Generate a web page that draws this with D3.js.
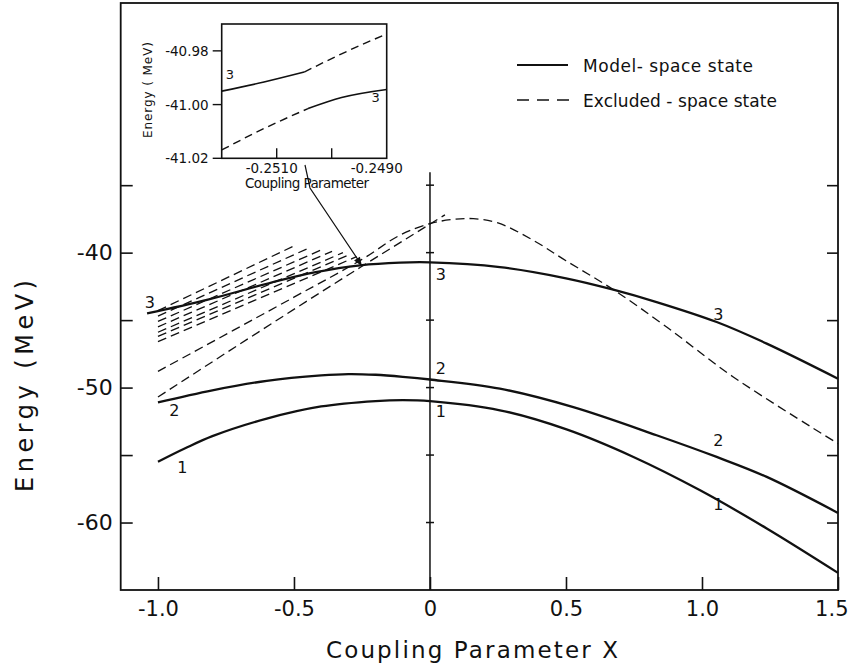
<!DOCTYPE html>
<html><head><meta charset="utf-8">
<script src="https://cdn.jsdelivr.net/npm/d3@7"></script>
<style>
body{margin:0;background:#fff}
svg{display:block}
text{font-family:"DejaVu Sans",sans-serif;fill:#111}
</style>
</head><body>
<svg id="c" width="849" height="667"></svg>
<script>
// ---------- data (coupling parameter X, energy MeV) ----------
const state1X = [-1.0,-0.9,-0.8,-0.6,-0.4,-0.2,-0.1,0,0.257,0.502,0.748,0.993,1.238,1.5];
const state1E = [-55.5,-54.5,-53.6,-52.3,-51.4,-51.0,-50.93,-51.0,-51.68,-53.1,-55.14,-57.61,-60.44,-63.73];
const state2X = [-1.0,-0.8,-0.6,-0.4,-0.3,-0.2,-0.1,0,0.257,0.527,0.833,1.054,1.238,1.5];
const state2E = [-51.1,-50.2,-49.5,-49.1,-49.0,-49.05,-49.2,-49.4,-50.08,-51.45,-53.53,-55.14,-56.62,-59.29];
const state3X = [-1.04,-0.82,-0.58,-0.42,-0.257,-0.11,0,0.257,0.5,0.674,0.833,1.054,1.238,1.5];
const state3E = [-44.5,-43.5,-42.2,-41.45,-40.94,-40.74,-40.72,-41.07,-41.9,-42.74,-43.66,-45.14,-46.74,-49.34];

const excl1X = [-1.0,-0.5,-0.25,-0.11,0,0.08,0.159,0.25,0.38,0.5,0.674,0.87,1.115,1.5];
const excl1E = [-48.8,-43.3,-40.5,-38.7,-37.85,-37.55,-37.48,-37.8,-39.09,-40.6,-42.74,-45.51,-49.21,-54.15];
const excl2X = [-1.0,-0.257,0.055];
const excl2E = [-50.7,-41.1,-37.2];
// fan of short excluded-space lines: start and end points
const fanX0 = [-1.0,-1.0,-1.0,-1.0,-1.0,-1.0,-1.0];
const fanE0 = [-44.3,-44.7,-45.1,-45.5,-45.9,-46.2,-46.6];
const fanX1 = [-0.50,-0.45,-0.40,-0.36,-0.32,-0.29,-0.27];
const fanE1 = [-39.5,-39.7,-39.8,-39.9,-40.0,-40.1,-40.3];

// curve labels
const labelX = [-1.03,0.04,1.06,-0.94,0.04,1.06,-0.91,0.04,1.06];
const labelE = [-43.7,-41.6,-44.6,-51.7,-48.6,-53.9,-55.9,-51.8,-58.7];
const labelT = ["3","3","3","2","2","2","1","1","1"];

const xTicks = [-1.0,-0.5,0,0.5,1.0,1.5];
const xTickLabels = ["-1.0","-0.5","0","0.5","1.0","1.5"];
const yTicks = [-35,-40,-45,-50,-55,-60];
const yTickLabels = {"-40":"-40","-50":"-50","-60":"-60"};

// inset data
const inSolidAX = [-0.2520,-0.25123,-0.25050];
const inSolidAE = [-40.995,-40.9916,-40.9879];
const inDashAX = [-0.25050,-0.24982,-0.2490];
const inDashAE = [-40.9879,-40.9811,-40.9737];
const inDashBX = [-0.2520,-0.25123,-0.25043];
const inDashBE = [-41.0169,-41.0089,-41.0015];
const inSolidBX = [-0.25043,-0.24982,-0.2490];
const inSolidBE = [-41.0015,-40.9974,-40.9944];
const inYTicks = [-40.98,-41.00,-41.02];
const inYTickLabels = ["-40.98","-41.00","-41.02"];
const inXTicks = [-0.2510,-0.2500];
const inXLabelVals = [-0.2510,-0.2490];
const inXTickLabels = ["-0.2510","-0.2490"];
const arrowTarget = [-0.25,-41.0];

// ---------- drawing ----------
const svg = d3.select("#c");
const x = d3.scaleLinear().domain([-1.137,1.5]).range([120.7,838]);
const y = d3.scaleLinear().domain([-65,-21.5]).range([590,3]);
const zip = (a,b)=>a.map((v,i)=>[v,b[i]]);
const line = d3.line().x(d=>x(d[0])).y(d=>y(d[1])).curve(d3.curveCatmullRom.alpha(0.5));

// frame
svg.append("rect").attr("x",x(-1.137)).attr("y",y(-21.5))
  .attr("width",x(1.5)-x(-1.137)).attr("height",y(-65)-y(-21.5))
  .attr("fill","none").attr("stroke","#111").attr("stroke-width",1.8);

// left axis
const gl = svg.append("g").attr("transform",`translate(${x(-1.137)},0)`)
  .call(d3.axisLeft(y).tickValues(yTicks).tickSizeInner(-12).tickSizeOuter(0).tickPadding(8)
    .tickFormat(d=>yTickLabels[String(d)]||""));
gl.select(".domain").remove();
gl.selectAll("line").attr("stroke","#111").attr("stroke-width",1.6);
gl.selectAll("text").attr("font-size",22).attr("fill","#111").style("font-family","DejaVu Sans");

// right axis ticks
const gr = svg.append("g").attr("transform",`translate(${x(1.5)},0)`)
  .call(d3.axisRight(y).tickValues(yTicks).tickSizeInner(-11).tickSizeOuter(0).tickFormat(""));
gr.select(".domain").remove();
gr.selectAll("line").attr("stroke","#111").attr("stroke-width",1.6);

// bottom axis
const gb = svg.append("g").attr("transform",`translate(0,${y(-65)})`)
  .call(d3.axisBottom(x).tickValues(xTicks).tickSizeInner(-13).tickSizeOuter(0).tickPadding(11)
    .tickFormat((d,i)=>xTickLabels[i]));
gb.select(".domain").remove();
gb.selectAll("line").attr("stroke","#111").attr("stroke-width",1.6);
gb.selectAll("text").attr("font-size",21).attr("fill","#111").style("font-family","DejaVu Sans");
gb.selectAll("text").filter(d=>d===1.5).attr("text-anchor","end").attr("x",848-x(1.5));

// center line at X = 0 with cross ticks
svg.append("line").attr("x1",x(0)).attr("x2",x(0)).attr("y1",y(-34.05)).attr("y2",y(-65))
  .attr("stroke","#111").attr("stroke-width",1.5);
svg.append("g").selectAll("line").data(yTicks).join("line")
  .attr("x1",x(0)-4).attr("x2",x(0)+4).attr("y1",d=>y(d)).attr("y2",d=>y(d))
  .attr("stroke","#111").attr("stroke-width",1.5);

// excluded-space (dashed)
const dashG = svg.append("g").attr("fill","none").attr("stroke","#111").attr("stroke-width",1.3)
  .attr("stroke-dasharray","9,5");
dashG.append("path").attr("d",line(zip(excl1X,excl1E)));
dashG.append("path").attr("d",d3.line().x(d=>x(d[0])).y(d=>y(d[1])).curve(d3.curveMonotoneX)(zip(excl2X,excl2E)));
fanX0.forEach((v,i)=>{
  dashG.append("path").attr("d",d3.line().x(d=>x(d[0])).y(d=>y(d[1]))([[v,fanE0[i]],[fanX1[i],fanE1[i]]]));
});

// model-space (solid)
const solidG = svg.append("g").attr("fill","none").attr("stroke","#111").attr("stroke-width",2.3);
solidG.append("path").attr("d",line(zip(state1X,state1E)));
solidG.append("path").attr("d",line(zip(state2X,state2E)));
solidG.append("path").attr("d",line(zip(state3X,state3E)));

// curve labels
svg.append("g").selectAll("text").data(labelT).join("text")
  .attr("x",(d,i)=>x(labelX[i])).attr("y",(d,i)=>y(labelE[i]))
  .attr("text-anchor","middle").attr("dominant-baseline","central")
  .attr("font-size",16).text(d=>d);

// axis titles
svg.append("text").attr("x",472).attr("y",658).attr("text-anchor","middle")
  .attr("font-size",23).attr("textLength",292).attr("lengthAdjust","spacing")
  .text("Coupling Parameter  X");
svg.append("text").attr("transform","translate(33,386) rotate(-90)").attr("text-anchor","middle")
  .attr("font-size",24).attr("textLength",212).attr("lengthAdjust","spacing")
  .text("Energy  (MeV)");

// legend
svg.append("line").attr("x1",517).attr("x2",568).attr("y1",65).attr("y2",65)
  .attr("stroke","#111").attr("stroke-width",2.2);
svg.append("text").attr("x",583).attr("y",72).attr("font-size",17)
  .attr("textLength",170).attr("lengthAdjust","spacing").text("Model- space  state");
svg.append("line").attr("x1",517).attr("x2",569).attr("y1",100).attr("y2",100)
  .attr("stroke","#111").attr("stroke-width",1.6).attr("stroke-dasharray","12,8");
svg.append("text").attr("x",583).attr("y",107).attr("font-size",17)
  .attr("textLength",194).attr("lengthAdjust","spacing").text("Excluded - space  state");

// ---------- inset ----------
const ix = d3.scaleLinear().domain([-0.2520,-0.2490]).range([221.7,386.7]);
const iy = d3.scaleLinear().domain([-41.02,-40.97]).range([158.3,24]);
const iline = d3.line().x(d=>ix(d[0])).y(d=>iy(d[1])).curve(d3.curveMonotoneX);
const ins = svg.append("g");
ins.append("rect").attr("x",ix(-0.2520)).attr("y",iy(-40.97))
  .attr("width",ix(-0.2490)-ix(-0.2520)).attr("height",iy(-41.02)-iy(-40.97))
  .attr("fill","#fff").attr("stroke","#111").attr("stroke-width",1.6);
ins.selectAll(".yt").data(inYTicks).join("line").attr("class","yt")
  .attr("x1",ix(-0.2520)-9).attr("x2",ix(-0.2520)).attr("y1",d=>iy(d)).attr("y2",d=>iy(d))
  .attr("stroke","#111").attr("stroke-width",1.4);
ins.selectAll(".yl").data(inYTicks).join("text").attr("class","yl")
  .attr("x",ix(-0.2520)-13).attr("y",d=>iy(d)).attr("text-anchor","end")
  .attr("dominant-baseline","central").attr("font-size",13.5).text((d,i)=>inYTickLabels[i]);
ins.selectAll(".xt").data(inXTicks).join("line").attr("class","xt")
  .attr("x1",d=>ix(d)).attr("x2",d=>ix(d)).attr("y1",iy(-41.02)).attr("y2",iy(-41.02)-10)
  .attr("stroke","#111").attr("stroke-width",1.4);
ins.selectAll(".xl").data(inXLabelVals).join("text").attr("class","xl")
  .attr("x",(d,i)=>ix(d)-(i?10:5)).attr("y",iy(-41.02)+15).attr("text-anchor","middle")
  .attr("font-size",13.5).text((d,i)=>inXTickLabels[i]);
ins.append("text").attr("x",307).attr("y",188).attr("text-anchor","middle")
  .attr("font-size",13.5).attr("textLength",124).attr("lengthAdjust","spacing").text("Coupling Parameter");
ins.append("text").attr("transform","translate(152,90) rotate(-90)").attr("text-anchor","middle")
  .attr("font-size",12).attr("textLength",96).attr("lengthAdjust","spacing").text("Energy ( MeV)");
ins.append("path").attr("d",iline(zip(inSolidAX,inSolidAE))).attr("fill","none").attr("stroke","#111").attr("stroke-width",1.6);
ins.append("path").attr("d",iline(zip(inSolidBX,inSolidBE))).attr("fill","none").attr("stroke","#111").attr("stroke-width",1.6);
ins.append("path").attr("d",iline(zip(inDashAX,inDashAE))).attr("fill","none").attr("stroke","#111").attr("stroke-width",1.4).attr("stroke-dasharray","8,5");
ins.append("path").attr("d",iline(zip(inDashBX,inDashBE))).attr("fill","none").attr("stroke","#111").attr("stroke-width",1.4).attr("stroke-dasharray","8,5");
ins.append("text").attr("x",ix(-0.25185)).attr("y",iy(-40.9905)).attr("font-size",13).attr("text-anchor","middle").text("3");
ins.append("text").attr("x",ix(-0.24920)).attr("y",iy(-40.9990)).attr("font-size",13).attr("text-anchor","middle").text("3");

// arrow from inset to crossing point
const tx = x(arrowTarget[0]), ty = y(arrowTarget[1]);
svg.append("path").attr("d",`M305,165 L310,188 L${tx-3},${ty-5}`)
  .attr("fill","none").attr("stroke","#111").attr("stroke-width",1.2);
const ang = Math.atan2(ty-188, tx-310);
const ah = 9, aw = 3.5;
const bx = tx - ah*Math.cos(ang), by = ty - ah*Math.sin(ang);
svg.append("path").attr("d",`M${tx},${ty} L${bx - aw*Math.sin(ang)},${by + aw*Math.cos(ang)} L${bx + aw*Math.sin(ang)},${by - aw*Math.cos(ang)} Z`)
  .attr("fill","#111");
</script>
</body></html>
